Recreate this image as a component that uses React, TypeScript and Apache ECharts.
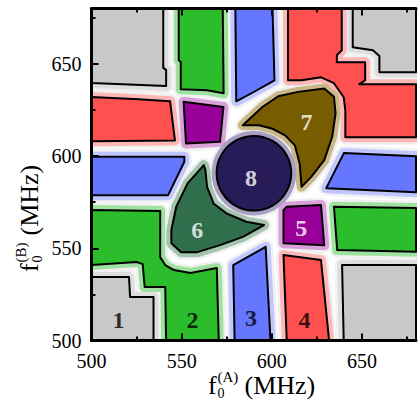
import React, { useEffect, useRef } from 'react';
import * as echarts from 'echarts';

// ---- axes (MHz) ----
const axisMin = 500;
const axisMax = 680;
const majorStep = 50;
const minorStep = 25;

// ---- region outlines, points are [f0(A), f0(B)] in MHz ----
const grayTopLeft = [[500, 680], [539.8, 680], [539.8, 647.8], [541.4, 646.7], [541.4, 638.0], [500, 639.6]];
const greenTop = [[548.4, 680], [548.4, 652], [549.5, 651], [549.5, 636.2], [564, 635.7], [573.3, 634], [572.8, 680]];
const blueTop = [[579.8, 680], [600.4, 680], [601.5, 641], [590.5, 635], [580.3, 629.7]];
const redTopRight = [[609, 680], [638.8, 680], [638.8, 657.4], [636.1, 654.7], [636.1, 650.9], [651.8, 650.9], [651.8, 641.1], [648.5, 638.9], [680, 638.9], [680, 610.2], [640.8, 610.2], [640.8, 624.8], [639.9, 631.9], [634.5, 639.5], [627.4, 642.7], [616.6, 641.1], [609, 641.1]];
const grayTopRight = [[644.9, 680], [644.9, 659], [656.1, 657.4], [659.7, 654.2], [659.7, 645.5], [680, 645.5], [680, 680]];
const redLeft = [[500, 632], [526, 630.8], [543.6, 629.7], [546.3, 608.5], [500, 608]];
const purpleLeft = [[551.1, 629.4], [573.2, 626.6], [571.3, 607.7], [552.4, 606.8]];
const blueLeft = [[500, 599.6], [551.5, 599.6], [551.5, 596.9], [542.5, 578.8], [500, 578.8]];
const green2 = [[500, 570.7], [538.1, 570.2], [538.1, 545.2], [540.9, 540.9], [545.7, 538.2], [554.9, 536.6], [569.5, 539.3], [570.6, 500], [541.4, 500], [540.9, 529], [529.5, 529], [528.4, 541.4], [525.2, 542.5], [500, 540.9]];
const gray1 = [[500, 534.4], [520.8, 534.4], [521.4, 523.6], [534.4, 523.6], [534.4, 500], [500, 500]];
const region6 = [[562.3, 595.1], [553.3, 585.2], [547.0, 572.5], [544.3, 559.9], [544.3, 552.7], [549.7, 547.9], [558.7, 547.9], [571.3, 551.7], [584.0, 556.2], [595.7, 562.6], [585.8, 564.4], [574.9, 568.9], [567.7, 574.3], [564.1, 583.3], [563.2, 592.4]];
const region7 = [[583.9, 616.7], [594.8, 626.6], [603.6, 632.4], [614.6, 634.8], [629.1, 636.6], [634.5, 632.1], [635.4, 623.1], [633.5, 610.4], [629.1, 597.8], [621.9, 588.7], [616.5, 583.3], [615.5, 595.7], [612.8, 605.8], [607.4, 611.2], [600.4, 614.8], [592.8, 616.7]];
const circle8Center = [590.1, 590.7];
const circle8Radius = 20.7;
const purple5 = [[606.5, 570.7], [608.3, 572.5], [627.3, 573.4], [629.1, 551.7], [606.5, 552.7]];
const greenRight = [[634.5, 572.5], [680, 571.8], [680, 548.1], [636.3, 549]];
const blueRight = [[640, 601.6], [680, 599.9], [680, 580.4], [630.2, 582.6]];
const blue3 = [[578.6, 540.9], [596.6, 550.8], [599.3, 500], [579.4, 500]];
const red4 = [[606.5, 546.3], [627.3, 543.6], [631.8, 500], [608.3, 500]];
const grayBottomRight = [[639, 540.9], [680, 540.9], [680, 500], [639.9, 500]];

// ---- region numbers ----
const labelNames = ['1', '2', '3', '4', '5', '6', '7', '8'];
const labelX = [515.0, 556.0, 588.5, 618.2, 616.4, 558.7, 619.2, 588.5];
const labelY = [511.1, 511.1, 512.0, 511.1, 560.8, 559.9, 618.5, 587.9];

// ---- styles ----
const palette: Record<string, { fill: string; halo: string }> = {
  gray: { fill: '#c8c8c8', halo: '#dedede' },
  green: { fill: '#2bbd2b', halo: '#9fe29f' },
  blue: { fill: '#6677ff', halo: '#c0c6ff' },
  red: { fill: '#ff5050', halo: '#ffb6b6' },
  purple: { fill: '#990099', halo: '#d9a0d9' },
  dgreen: { fill: '#306e4c', halo: '#a5c4ae' },
  olive: { fill: '#785c00', halo: '#c9b886' },
  navy: { fill: '#281c58', halo: '#a7a0c4' },
};

type Region = { kind: string; poly?: number[][]; circle?: boolean };
const regions: Region[] = [
  { kind: 'gray', poly: grayTopLeft },
  { kind: 'green', poly: greenTop },
  { kind: 'blue', poly: blueTop },
  { kind: 'red', poly: redTopRight },
  { kind: 'gray', poly: grayTopRight },
  { kind: 'red', poly: redLeft },
  { kind: 'purple', poly: purpleLeft },
  { kind: 'blue', poly: blueLeft },
  { kind: 'green', poly: green2 },
  { kind: 'gray', poly: gray1 },
  { kind: 'dgreen', poly: region6 },
  { kind: 'olive', poly: region7 },
  { kind: 'navy', circle: true },
  { kind: 'purple', poly: purple5 },
  { kind: 'green', poly: greenRight },
  { kind: 'blue', poly: blueRight },
  { kind: 'blue', poly: blue3 },
  { kind: 'red', poly: red4 },
  { kind: 'gray', poly: grayBottomRight },
];

const serif = 'Liberation Serif, Times New Roman, serif';

function makeRender(layer: 'mist' | 'halo' | 'body') {
  return (_params: any, api: any) => {
    const r = regions[api.value(0) as number];
    const p = palette[r.kind];
    let style: any;
    if (layer === 'mist') style = { fill: '#f1f1f1', stroke: '#f1f1f1', lineWidth: 15, lineJoin: 'round' };
    else if (layer === 'halo') style = { fill: p.halo, stroke: p.halo, lineWidth: 10, lineJoin: 'round' };
    else style = { fill: p.fill, stroke: '#000', lineWidth: 2, lineJoin: 'round' };
    if (r.circle) {
      const c = api.coord(circle8Center);
      const rad = api.size([circle8Radius, 0])[0];
      return { type: 'circle', shape: { cx: c[0], cy: c[1], r: rad }, style };
    }
    return { type: 'polygon', shape: { points: (r.poly as number[][]).map((pt) => api.coord(pt)) }, style };
  };
}

function titleGroup(x: number, y: number, sup: string, rotation: number) {
  const base = { fill: '#000', fontFamily: serif, verticalAlign: 'middle', align: 'left' };
  return {
    type: 'group',
    x,
    y,
    rotation,
    children: [
      { type: 'text', x: 0, y: 0, style: { ...base, text: 'f', fontSize: 26 } },
      { type: 'text', x: 9.5, y: -8, style: { ...base, text: sup, fontSize: 15 } },
      { type: 'text', x: 9.5, y: 8, style: { ...base, text: '0', fontSize: 14 } },
      { type: 'text', x: 36.5, y: 0, style: { ...base, text: '(MHz)', fontSize: 26 } },
    ],
  };
}

function axisCommon(step: number, len: number, showLine: boolean, showLabel: boolean, position: string) {
  return {
    type: 'value',
    position,
    min: axisMin,
    max: axisMax,
    interval: step,
    z: 10,
    axisLine: { show: showLine, lineStyle: { color: '#000', width: 3 } },
    axisTick: { show: true, inside: true, length: len, lineStyle: { color: '#000', width: 2 } },
    axisLabel: {
      show: showLabel,
      color: '#000',
      fontSize: 20,
      fontFamily: serif,
      margin: 10,
      formatter: (v: number) => (v % majorStep === 0 ? String(v) : ''),
    },
    splitLine: { show: false },
  };
}

function regionSeries(layer: 'mist' | 'halo' | 'body', z: number, data: number[][]) {
  return {
    type: 'custom',
    coordinateSystem: 'cartesian2d',
    clip: true,
    z,
    data,
    renderItem: makeRender(layer),
    silent: true,
  };
}

export default function App() {
  const ref = useRef<HTMLDivElement>(null);
  useEffect(() => {
    if (!ref.current) return;
    const chart = echarts.init(ref.current, undefined, { renderer: 'svg' });
    const regionData = regions.map((_, i) => [i]);
    chart.setOption({
      animation: false,
      backgroundColor: '#fff',
      grid: { left: 91.5, top: 8.5, width: 332.6, height: 332 },
      xAxis: [
        axisCommon(majorStep, 7, true, true, 'bottom'),
        axisCommon(minorStep, 4, false, false, 'bottom'),
        axisCommon(majorStep, 7, true, false, 'top'),
        axisCommon(minorStep, 4, false, false, 'top'),
      ],
      yAxis: [
        axisCommon(majorStep, 7, true, true, 'left'),
        axisCommon(minorStep, 4, false, false, 'left'),
      ],
      series: [
        regionSeries('mist', 1, regionData),
        regionSeries('halo', 2, regionData),
        regionSeries('body', 3, regionData),
        {
          type: 'scatter',
          z: 5,
          symbolSize: 1,
          itemStyle: { color: 'rgba(0,0,0,0)' },
          data: labelNames.map((n, i) => ({
            name: n,
            value: [labelX[i], labelY[i]],
            label: { color: i < 4 ? '#000' : '#fff' },
          })),
          label: {
            show: true,
            position: 'inside',
            formatter: (p: any) => p.name,
            fontSize: 24,
            fontWeight: 'bold',
            fontFamily: serif,
          },
          silent: true,
        },
      ],
      graphic: [titleGroup(208, 385, '(A)', 0), titleGroup(29, 272, '(B)', Math.PI / 2)],
    });
    return () => chart.dispose();
  }, []);
  return <div ref={ref} style={{ position: 'fixed', left: 0, top: 0, width: 419, height: 401 }} />;
}
